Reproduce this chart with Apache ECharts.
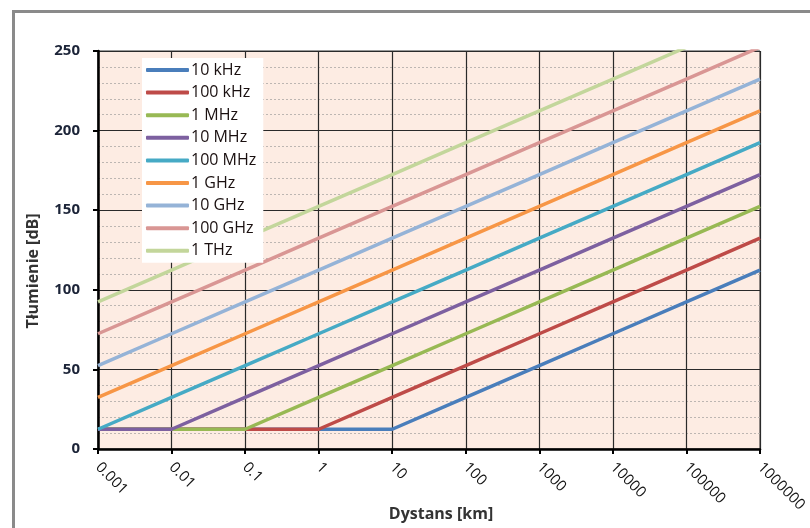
<!DOCTYPE html>
<html><head><meta charset="utf-8">
<script src="https://cdn.jsdelivr.net/npm/echarts@6/dist/echarts.min.js"></script>
<style>html,body{margin:0;padding:0;background:#fff;}#c{width:810px;height:528px;}</style>
</head><body><div id="c"></div>
<script>
const distances = ['0.001','0.01','0.1','1','10','100','1000','10000','100000','1000000'];
const seriesNames = ['10 kHz','100 kHz','1 MHz','10 MHz','100 MHz','1 GHz','10 GHz','100 GHz','1 THz'];
const s10kHz  = [12.4,12.4,12.4,12.4,12.4,32.4,52.4,72.4,92.4,112.4];
const s100kHz = [12.4,12.4,12.4,12.4,32.4,52.4,72.4,92.4,112.4,132.4];
const s1MHz   = [12.4,12.4,12.4,32.4,52.4,72.4,92.4,112.4,132.4,152.4];
const s10MHz  = [12.4,12.4,32.4,52.4,72.4,92.4,112.4,132.4,152.4,172.4];
const s100MHz = [12.4,32.4,52.4,72.4,92.4,112.4,132.4,152.4,172.4,192.4];
const s1GHz   = [32.4,52.4,72.4,92.4,112.4,132.4,152.4,172.4,192.4,212.4];
const s10GHz  = [52.4,72.4,92.4,112.4,132.4,152.4,172.4,192.4,212.4,232.4];
const s100GHz = [72.4,92.4,112.4,132.4,152.4,172.4,192.4,212.4,232.4,252.4];
const s1THz   = [92.4,112.4,132.4,152.4,172.4,192.4,212.4,232.4,252.4,272.4];
const yTicks = [0,50,100,150,200,250];

const allData = [s10kHz,s100kHz,s1MHz,s10MHz,s100MHz,s1GHz,s10GHz,s100GHz,s1THz];
const colors = ['#4a7ebb','#be4b48','#98b954','#7d60a0','#46aac5','#f79646','#95b3d7','#d99694','#c3d69b'];

const chart = echarts.init(document.getElementById('c'));
chart.setOption({
  animation:false,
  backgroundColor:'#ffffff',
  color:colors,
  grid:{left:98,right:50,top:51,bottom:79,show:true,backgroundColor:'#fdece3',borderColor:'#333',borderWidth:1},
  legend:{
    orient:'vertical',left:142,top:58,
    backgroundColor:'#ffffff',
    padding:[4,7,4,4],
    itemWidth:43,itemHeight:4,itemGap:6.6,
    icon:'roundRect',
    textStyle:{fontFamily:'Open Sans',fontSize:16,color:'#1a1010',lineHeight:16,padding:[0,0,0,-3]},
    data:seriesNames
  },
  xAxis:{
    type:'category',data:distances,boundaryGap:false,
    axisLine:{lineStyle:{color:'#000',width:2.5}},
    axisTick:{show:true,length:5,lineStyle:{color:'#000',width:2}},
    axisLabel:{rotate:-45,margin:16,fontFamily:'Open Sans',fontSize:15,color:'#111'},
    splitLine:{show:true,lineStyle:{color:'#2a2a2a',width:1.2}}
  },
  yAxis:{
    type:'value',min:0,max:250,interval:50,
    axisLine:{show:true,lineStyle:{color:'#000',width:2.5}},
    axisTick:{show:true,length:5,lineStyle:{color:'#000',width:2}},
    axisLabel:{margin:18,fontFamily:'Open Sans',fontWeight:'bold',fontSize:15,color:'#1c2438',
      formatter:function(v){return yTicks.indexOf(v)>=0?String(v):'';}},
    splitLine:{show:true,lineStyle:{color:'#2a2a2a',width:1.2}},
    minorTick:{show:false,splitNumber:5},
    minorSplitLine:{show:true,lineStyle:{color:'#bdb6b2',width:1,type:[2,2]}}
  },
  graphic:[
    {type:'rect',left:11,top:9,shape:{width:830,height:560},style:{fill:'none',stroke:'#8a8a8a',lineWidth:3},z:-10},
    {type:'text',x:33,y:271,rotation:Math.PI/2,style:{text:'Tłumienie [dB]',fontFamily:'Open Sans',fontWeight:'bold',fontSize:16,fill:'#333',align:'center',verticalAlign:'middle'}},
    {type:'text',x:441,y:514,style:{text:'Dystans [km]',fontFamily:'Open Sans',fontWeight:'bold',fontSize:16,fill:'#333',align:'center',verticalAlign:'middle'}}
  ],
  series:allData.map(function(d,i){
    return {name:seriesNames[i],type:'line',data:d,symbol:'none',clip:true,
      lineStyle:{width:3.5,color:colors[i]},itemStyle:{color:colors[i]}};
  })
});
</script>
</body></html>
